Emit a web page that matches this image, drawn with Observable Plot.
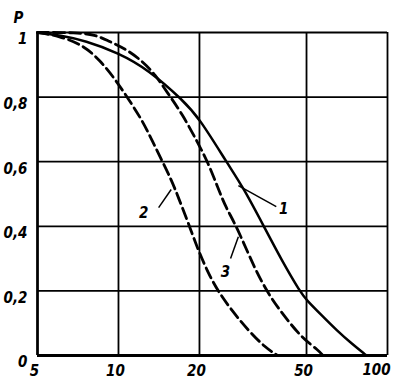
<!DOCTYPE html>
<html>
<head>
<meta charset="utf-8">
<script src="https://cdn.jsdelivr.net/npm/d3@7"></script>
<script src="https://cdn.jsdelivr.net/npm/@observablehq/plot@0.6"></script>
<style>
  html, body { margin: 0; padding: 0; background: #fff; }
  svg text { font-family: "Liberation Sans Narrow", "DejaVu Sans Condensed", "Liberation Sans", sans-serif; font-style: italic; font-weight: bold; }
</style>
</head>
<body>
<div id="chart"></div>
<script>
// x ticks and y ticks
const xTicks = [5, 10, 20, 50, 100];
const yTicks = [0, 0.2, 0.4, 0.6, 0.8, 1];

// Curve 1 (solid)
const x1 = [5, 6.1, 7.5, 10, 12.9, 17.4, 20, 25.6, 29.1, 34.9, 40.4, 47.5, 50, 57, 64.9, 74, 83.5];
const p1 = [1, 0.991, 0.975, 0.937, 0.885, 0.79, 0.734, 0.59, 0.52, 0.396, 0.295, 0.195, 0.172, 0.124, 0.077, 0.035, 0];

// Curve 2 (dashed, left)
const x2 = [5, 6, 7.43, 8.55, 9.67, 10.97, 12.25, 13.33, 14.5, 15.8, 16.7, 18.2, 19.8, 21.6, 23.4, 26.4, 30.4, 35.1, 39];
const p2 = [1, 0.99, 0.96, 0.913, 0.858, 0.79, 0.728, 0.666, 0.604, 0.54, 0.489, 0.409, 0.325, 0.254, 0.20, 0.139, 0.077, 0.025, 0];

// Curve 3 (dashed, right)
const x3 = [5, 7, 8.2, 9.1, 10.6, 12.2, 13.7, 15.3, 17.2, 19.8, 21.6, 23.4, 25, 27.5, 32.3, 36.7, 41.7, 47.9, 55.6, 57.5];
const p3 = [1, 1, 0.993, 0.975, 0.95, 0.913, 0.87, 0.81, 0.75, 0.656, 0.594, 0.52, 0.46, 0.40, 0.263, 0.18, 0.118, 0.056, 0.015, 0];

// Curve labels and leader lines (data coordinates)
const labelText = ["1", "2", "3"];
const labelX = [41.1, 12.4, 25];
const labelP = [0.452, 0.44, 0.257];
const leaderX1 = [27.9, 15.7, 27.9];
const leaderP1 = [0.526, 0.514, 0.368];
const leaderX2 = [38.6, 14.1, 26.1];
const leaderP2 = [0.461, 0.458, 0.30];

const toRows = (xs, ps) => xs.map((x, i) => ({x, p: ps[i]}));
const c1 = toRows(x1, p1), c2 = toRows(x2, p2), c3 = toRows(x3, p3);
const labels = labelText.map((t, i) => ({t, x: labelX[i], p: labelP[i]}));
const leaders = labelText.map((t, i) => ({x1: leaderX1[i], p1: leaderP1[i], x2: leaderX2[i], p2: leaderP2[i]}));

const fmt = d => d === 0 ? "0" : d === 1 ? "1" : d.toFixed(1).replace(".", ",");
const font = {fontSize: 15, fontStyle: "italic", fontWeight: "bold"};

const chart = Plot.plot({
  width: 399,
  height: 385,
  marginLeft: 37,
  marginRight: 12,
  marginTop: 32,
  marginBottom: 30,
  style: {fontSize: "15px", background: "#fff", color: "#000"},
  x: {type: "log", domain: [5, 100], axis: null},
  y: {domain: [0, 1], axis: null},
  marks: [
    Plot.gridX(xTicks, {stroke: "#000", strokeOpacity: 1, strokeWidth: 1.8}),
    Plot.gridY(yTicks, {stroke: "#000", strokeOpacity: 1, strokeWidth: 1.8}),
    Plot.ruleY([0], {stroke: "#000", strokeWidth: 3}),
    Plot.ruleX([5], {stroke: "#000", strokeWidth: 2.6}),
    // x tick labels
    Plot.text(xTicks.filter(d => d < 100), {x: d => d, text: d => String(d), frameAnchor: "bottom", dy: 20, dx: -3, ...font}),
    Plot.text(xTicks.filter(d => d === 100), {x: d => d, text: d => String(d), frameAnchor: "bottom", dy: 19, dx: -11, ...font}),
    // y tick labels
    Plot.text(yTicks, {y: d => d, text: fmt, frameAnchor: "left", textAnchor: "end", dx: -10, dy: 7, ...font}),
    Plot.line(c1, {x: "x", y: "p", stroke: "#000", strokeWidth: 2.5, curve: "basis"}),
    Plot.line(c2, {x: "x", y: "p", stroke: "#000", strokeWidth: 2.8, strokeDasharray: "11,5", curve: "basis"}),
    Plot.line(c3, {x: "x", y: "p", stroke: "#000", strokeWidth: 2.8, strokeDasharray: "11,5", curve: "basis"}),
    Plot.link(leaders, {x1: "x1", y1: "p1", x2: "x2", y2: "p2", stroke: "#000", strokeWidth: 1.5}),
    Plot.text(labels, {x: "x", y: "p", text: "t", ...font}),
    Plot.text(["P"], {frameAnchor: "top-left", dx: -24, dy: -20, ...font})
  ]
});
document.getElementById("chart").appendChild(chart);
</script>
</body>
</html>
